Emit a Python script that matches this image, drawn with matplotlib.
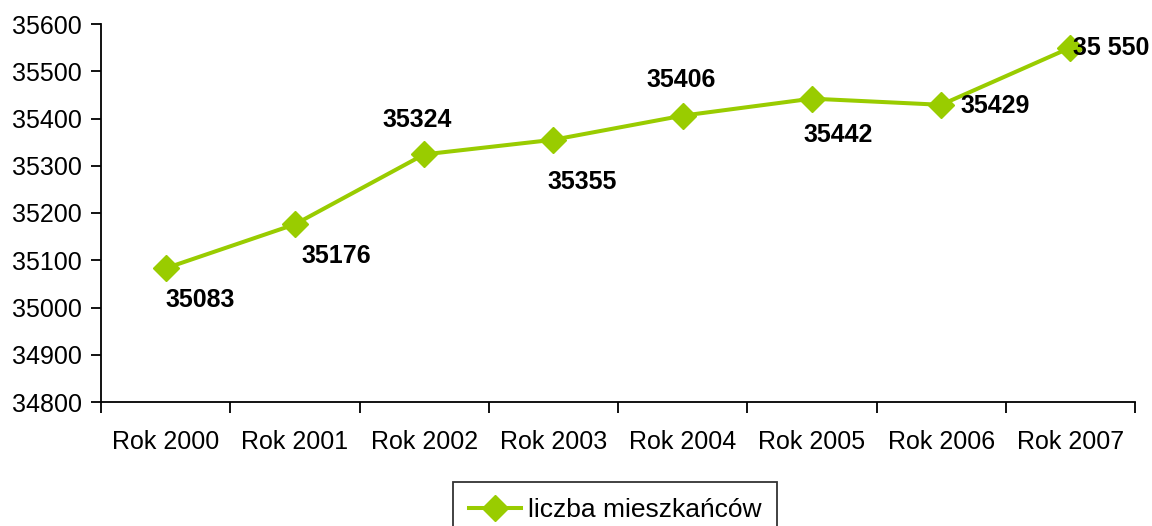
import matplotlib
matplotlib.use("Agg")
import matplotlib.pyplot as plt

categories = ["Rok 2000", "Rok 2001", "Rok 2002", "Rok 2003", "Rok 2004", "Rok 2005", "Rok 2006", "Rok 2007"]
values = [35083, 35176, 35324, 35355, 35406, 35442, 35429, 35550]
labels = ["35083", "35176", "35324", "35355", "35406", "35442", "35429", "35 550"]
label_offsets = [(35, -32), (41, -32), (-7, 34), (29, -42), (-1, 36), (26, -36), (54, -1), (41, 0)]
yticks = [34800, 34900, 35000, 35100, 35200, 35300, 35400, 35500, 35600]
series_name = "liczba mieszkańców"

plt.rcParams['font.family'] = ['Liberation Sans', 'DejaVu Sans']
green = "#99CC00"
fs = 18

fig = plt.figure(figsize=(11.52, 5.26), dpi=100)
ax = fig.add_axes([101/1152, 1-402/526, (1135-101)/1152, (402-24)/526])

x = list(range(len(categories)))
ax.plot(x, values, color=green, lw=2.9, marker='D', markersize=13, label=series_name, clip_on=False)

for xi, v, lab, off in zip(x, values, labels, label_offsets):
    ax.annotate(lab, (xi, v), xytext=off, textcoords='offset pixels',
                ha='center', va='center', fontsize=fs, fontweight='bold', color='black')

ax.set_xlim(-0.5, len(categories) - 0.5)
ax.set_ylim(34800, 35600)
ax.set_yticks(yticks)
ax.set_yticklabels([str(t) for t in yticks], fontsize=fs)
ax.set_xticks(x)
ax.set_xticklabels(categories, fontsize=fs)
ax.tick_params(axis='x', length=0, pad=20)
ax.set_xticks([i - 0.5 for i in range(len(categories) + 1)], minor=True)
ax.tick_params(axis='x', which='minor', length=8, width=1.3, direction='out', color='black')
ax.tick_params(axis='y', length=7, width=1.3, direction='out', pad=7)
for s in ['top', 'right']:
    ax.spines[s].set_visible(False)
for s in ['left', 'bottom']:
    ax.spines[s].set_linewidth(1.3)

leg = fig.legend(loc='upper center', bbox_to_anchor=(615/1152, 1-482/526), fontsize=19,
                 frameon=True, fancybox=False, edgecolor='black', handlelength=2.0,
                 handletextpad=0.25, borderpad=0.6, borderaxespad=0)
leg.get_frame().set_linewidth(1.3)

fig.savefig("out.png", dpi=100)
